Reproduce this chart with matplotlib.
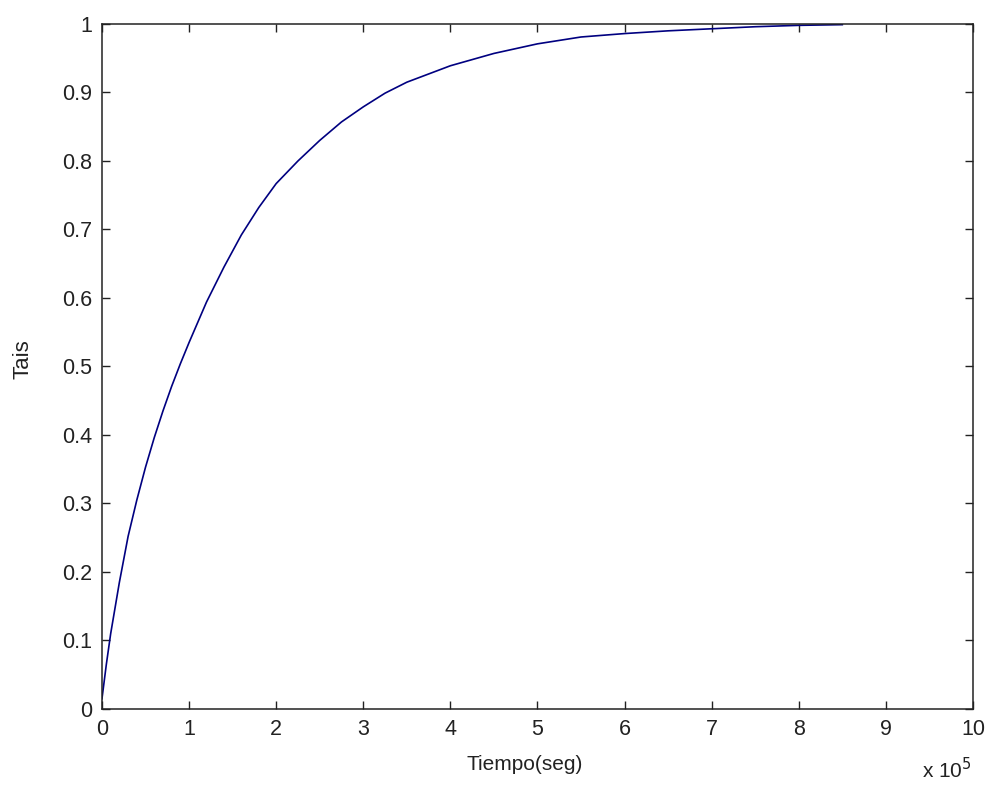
import matplotlib
matplotlib.use("Agg")
import matplotlib.pyplot as plt
from matplotlib.ticker import FuncFormatter

# curve (time in units of 1e5 s)
tiempo_1e5 = [0.0, 0.05, 0.1, 0.2, 0.3, 0.4, 0.5, 0.6, 0.7, 0.8, 0.9, 1.0,
              1.2, 1.4, 1.6, 1.8, 2.0, 2.25, 2.5, 2.75, 3.0, 3.25, 3.5, 4.0,
              4.5, 5.0, 5.5, 6.0, 6.5, 7.0, 7.5, 8.0, 8.5]
tais = [0.015, 0.065, 0.11, 0.185, 0.252, 0.305, 0.353, 0.396, 0.435, 0.471, 0.504, 0.535,
        0.594, 0.645, 0.692, 0.732, 0.767, 0.80, 0.83, 0.857, 0.879, 0.899, 0.915, 0.939,
        0.957, 0.971, 0.981, 0.986, 0.99, 0.993, 0.996, 0.998, 0.999]
xticks = list(range(0, 11))
yticks = [0, 0.1, 0.2, 0.3, 0.4, 0.5, 0.6, 0.7, 0.8, 0.9, 1]

SCALE = 1e5
t = [v * SCALE for v in tiempo_1e5]

plt.rcParams["font.family"] = ["Liberation Sans", "DejaVu Sans"]
fig = plt.figure(figsize=(9.91, 7.94), dpi=100)
ax = fig.add_axes([0.1029, 0.1071, 0.8789, 0.8627])

ax.plot(t, tais, color="#000080", lw=1.2)

ax.set_xlim(0, 10 * SCALE)
ax.set_ylim(0, 1)
ax.set_xticks([x * SCALE for x in xticks])
ax.set_yticks(yticks)
ax.xaxis.set_major_formatter(FuncFormatter(lambda v, p: f"{v / SCALE:g}"))
ax.yaxis.set_major_formatter(FuncFormatter(lambda v, p: f"{v:g}"))
ax.tick_params(direction="in", length=6, width=1, labelsize=15.5,
               top=True, right=True, pad=7, colors="#222222")
for s in ax.spines.values():
    s.set_linewidth(1.1)
    s.set_color("#222222")

ax.set_xlabel("Tiempo(seg)", fontsize=15, color="#222222")
ax.set_ylabel("Tais", fontsize=16, color="#222222")
ax.xaxis.set_label_coords(0.485, -0.067)
ax.yaxis.set_label_coords(-0.079, 0.511)
ax.text(0.998, -0.088, r"x 10$^{5}$", transform=ax.transAxes, ha="right",
        va="center", fontsize=15, color="#222222")

fig.savefig("out.png", dpi=100)
